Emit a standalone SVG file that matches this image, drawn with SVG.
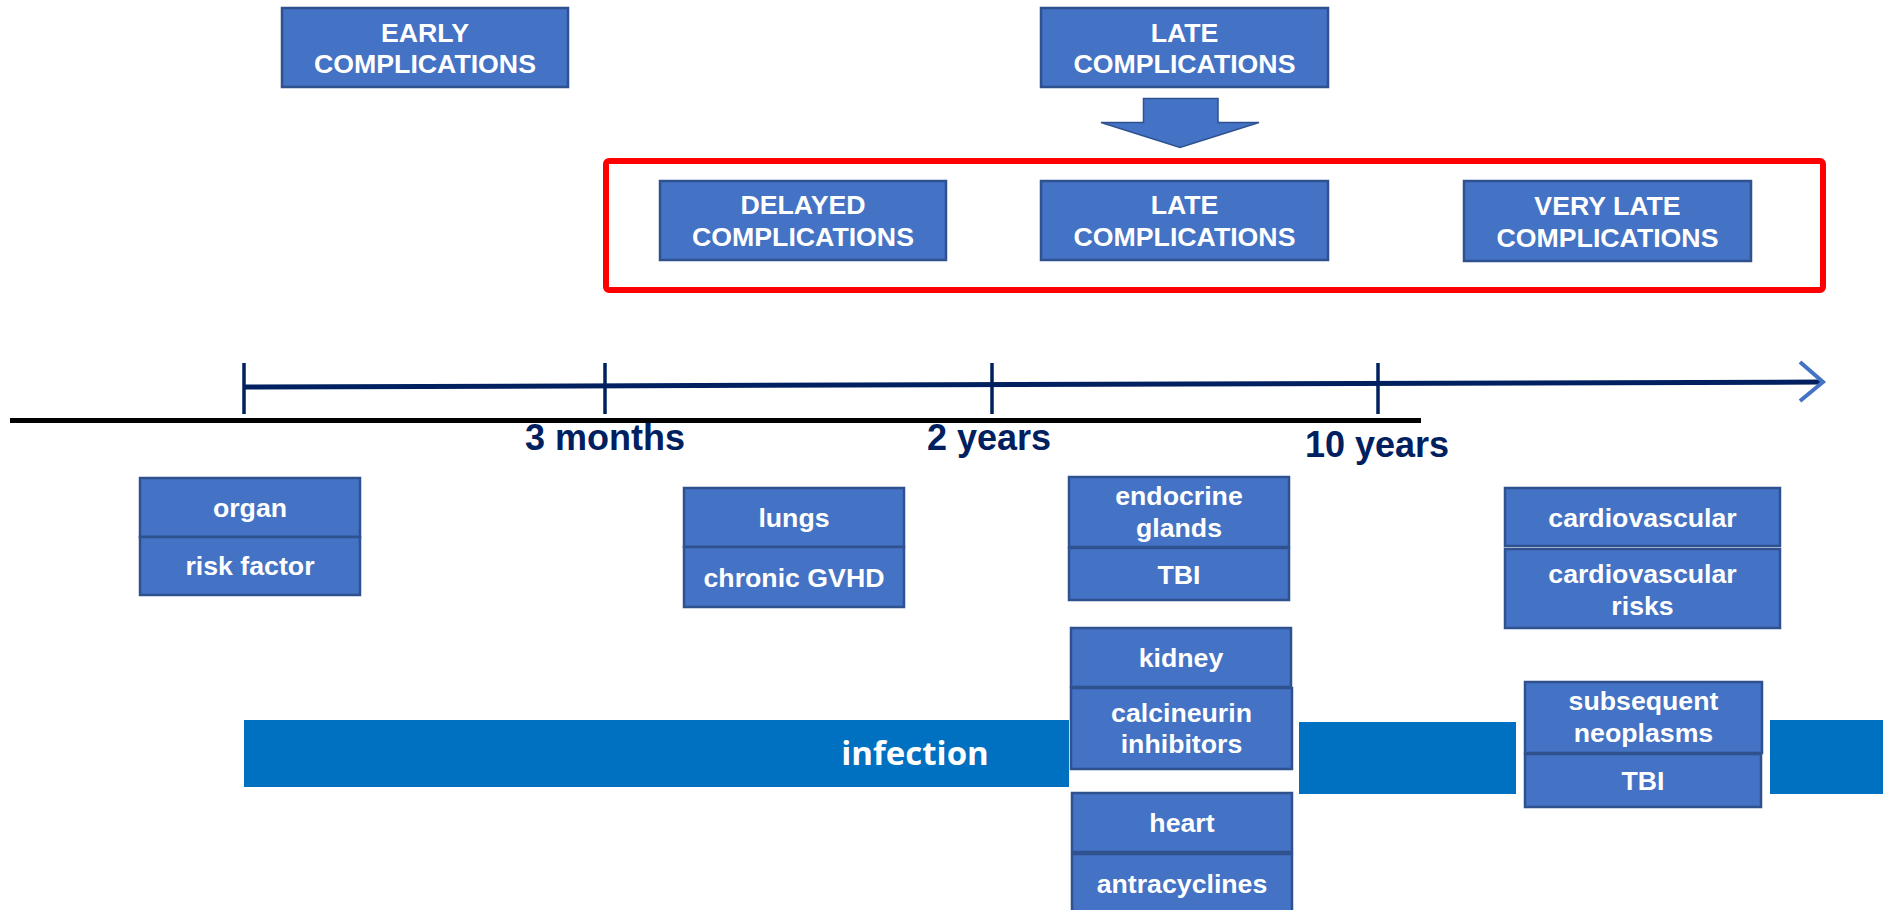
<svg xmlns="http://www.w3.org/2000/svg" width="1883" height="910" viewBox="0 0 1883 910">
<style>
  .box { fill: #4472C4; stroke: #2F528F; stroke-width: 2.5; }
  .lbl { fill: #FFFFFF; font-family: "Liberation Sans", Arial, sans-serif; font-weight: bold; font-size: 26.7px; text-anchor: middle; }
  .time { fill: #002060; font-family: "Liberation Sans", Arial, sans-serif; font-weight: bold; font-size: 36px; text-anchor: middle; }
  .bar { fill: #0070C0; }
  .tick { stroke: #002060; stroke-width: 3.5; }
</style>
<rect x="0" y="0" width="1883" height="910" fill="#FFFFFF"/>

<g id="connectors">
  <line x1="10" y1="420.5" x2="1421" y2="420.5" stroke="#000000" stroke-width="5"/>
  <line x1="244" y1="387" x2="1822" y2="382" stroke="#002060" stroke-width="5"/>
  <line class="tick" x1="244" y1="363" x2="244" y2="414"/>
  <line class="tick" x1="605" y1="363" x2="605" y2="414"/>
  <line class="tick" x1="992" y1="363" x2="992" y2="414"/>
  <line class="tick" x1="1378" y1="363" x2="1378" y2="414"/>
  <polyline points="1800,362 1823,382 1800,401" fill="none" stroke="#4472C4" stroke-width="4"/>
  <polygon id="down-arrow" points="1143.5,98.5 1218,98.5 1218,122.5 1259,122.5 1180,147.5 1101,122.5 1143.5,122.5" fill="#4472C4" stroke="#2F528F" stroke-width="1.5"/>
</g>

<g id="timeline-labels">
  <text class="time" x="605" y="450">3 months</text>
  <text class="time" x="989" y="450">2 years</text>
  <text class="time" x="1377" y="457">10 years</text>
</g>

<g id="early">
  <rect class="box" x="282" y="8" width="286" height="79"/>
  <text class="lbl" x="425" y="41.5">EARLY</text>
  <text class="lbl" x="425" y="73">COMPLICATIONS</text>
</g>
<g id="late-top">
  <rect class="box" x="1041" y="8" width="287" height="79"/>
  <text class="lbl" x="1184.5" y="41.5">LATE</text>
  <text class="lbl" x="1184.5" y="73">COMPLICATIONS</text>
</g>

<g id="red-frame">
  <rect x="606" y="161" width="1217" height="129" rx="3" fill="none" stroke="#FF0000" stroke-width="6"/>
</g>
<g id="delayed">
  <rect class="box" x="660" y="181" width="286" height="79"/>
  <text class="lbl" x="803" y="214">DELAYED</text>
  <text class="lbl" x="803" y="246">COMPLICATIONS</text>
</g>
<g id="late-inner">
  <rect class="box" x="1041" y="181" width="287" height="79"/>
  <text class="lbl" x="1184.5" y="213.5">LATE</text>
  <text class="lbl" x="1184.5" y="246">COMPLICATIONS</text>
</g>
<g id="very-late">
  <rect class="box" x="1464" y="181" width="287" height="80"/>
  <text class="lbl" x="1607.5" y="214.5">VERY LATE</text>
  <text class="lbl" x="1607.5" y="247">COMPLICATIONS</text>
</g>

<g id="infection-bars">
  <rect class="bar" x="244" y="720" width="825" height="67"/>
  <text x="915" y="765" fill="#FFFFFF" font-family="'Open Sans', sans-serif" font-weight="bold" font-size="33px" text-anchor="middle">infection</text>
  <rect class="bar" x="1299" y="722" width="217" height="72"/>
  <rect class="bar" x="1770" y="720" width="113" height="74"/>
</g>

<g id="organ">
  <rect class="box" x="140" y="478" width="220" height="59"/>
  <text class="lbl" x="250" y="517">organ</text>
</g>
<g id="risk-factor">
  <rect class="box" x="140" y="537" width="220" height="58"/>
  <text class="lbl" x="250" y="575">risk factor</text>
</g>

<g id="lungs">
  <rect class="box" x="684" y="488" width="220" height="59"/>
  <text class="lbl" x="794" y="527">lungs</text>
</g>
<g id="chronic-gvhd">
  <rect class="box" x="684" y="547" width="220" height="60"/>
  <text class="lbl" x="794" y="587">chronic GVHD</text>
</g>

<g id="endocrine">
  <rect class="box" x="1069" y="477" width="220" height="70"/>
  <text class="lbl" x="1179" y="505">endocrine</text>
  <text class="lbl" x="1179" y="537">glands</text>
</g>
<g id="tbi-1">
  <rect class="box" x="1069" y="548" width="220" height="52"/>
  <text class="lbl" x="1179" y="584">TBI</text>
</g>

<g id="kidney">
  <rect class="box" x="1071" y="628" width="220" height="59"/>
  <text class="lbl" x="1181" y="667">kidney</text>
</g>
<g id="calcineurin">
  <rect class="box" x="1071" y="688" width="221" height="81"/>
  <text class="lbl" x="1181.5" y="722">calcineurin</text>
  <text class="lbl" x="1181.5" y="753">inhibitors</text>
</g>
<g id="heart">
  <rect class="box" x="1072" y="793" width="220" height="59"/>
  <text class="lbl" x="1182" y="832">heart</text>
</g>
<g id="antracyclines">
  <rect class="box" x="1072" y="854" width="220" height="70"/>
  <text class="lbl" x="1182" y="893">antracyclines</text>
</g>

<g id="cardiovascular">
  <rect class="box" x="1505" y="488" width="275" height="58"/>
  <text class="lbl" x="1642.5" y="527">cardiovascular</text>
</g>
<g id="cardiovascular-risks">
  <rect class="box" x="1505" y="549" width="275" height="79"/>
  <text class="lbl" x="1642.5" y="583">cardiovascular</text>
  <text class="lbl" x="1642.5" y="615">risks</text>
</g>

<g id="neoplasms">
  <rect class="box" x="1525" y="682" width="237" height="71"/>
  <text class="lbl" x="1643.5" y="710">subsequent</text>
  <text class="lbl" x="1643.5" y="742">neoplasms</text>
</g>
<g id="tbi-2">
  <rect class="box" x="1525" y="754" width="236" height="53"/>
  <text class="lbl" x="1643" y="790">TBI</text>
</g>
</svg>
